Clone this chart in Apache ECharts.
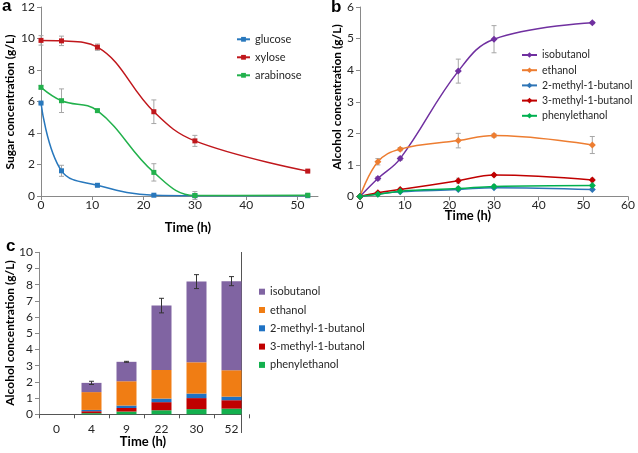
<!DOCTYPE html>
<html><head><meta charset="utf-8">
<script src="https://cdn.jsdelivr.net/npm/echarts@6/dist/echarts.min.js"></script>
<style>html,body{margin:0;padding:0;background:#fff}#c{width:638px;height:453px}</style>
</head><body><div id="c"></div>
<script>
// Panel a: sugars
const aTime = [0, 4, 11, 22, 30, 52];
const glucose = [5.9, 1.6, 0.68, 0.05, 0.02, 0.02];
const glucoseErr = [0.05, 0.35, 0.08, 0.05, 0, 0];
const xylose = [9.88, 9.85, 9.45, 5.35, 3.5, 1.58];
const xyloseErr = [0.3, 0.3, 0.2, 0.75, 0.35, 0.05];
const arabinose = [6.9, 6.05, 5.42, 1.5, 0.03, 0.05];
const arabinoseErr = [0.1, 0.75, 0.08, 0.55, 0.25, 0.05];
// Panel b: alcohols
const bTime = [0, 4, 9, 22, 30, 52];
const isobutanol = [0, 0.57, 1.2, 3.97, 4.98, 5.5];
const isobutanolErr = [0, 0.05, 0.05, 0.38, 0.43, 0.03];
const ethanol = [0, 1.1, 1.5, 1.77, 1.93, 1.63];
const ethanolErr = [0, 0.1, 0.05, 0.23, 0.05, 0.27];
const methyl2 = [0, 0.08, 0.15, 0.22, 0.28, 0.22];
const methyl3 = [0, 0.12, 0.22, 0.5, 0.68, 0.52];
const methyl3Err = [0, 0.03, 0.04, 0.08, 0.05, 0.06];
const phenyl = [0, 0.07, 0.17, 0.25, 0.32, 0.35];
const phenylErr = [0, 0.02, 0.03, 0.05, 0.06, 0.04];
// Panel c: stacked totals
const cCategories = ['0', '4', '9', '22', '30', '52'];
const totalErr = [0, 0.1, 0.03, 0.45, 0.43, 0.28];
const aTicks = [0, 10, 20, 30, 40, 50];

const FONT = 'Lato, "Open Sans", sans-serif';
const TXT = '#262626';
const AXC = '#898989';

function errSeries(name, xs, ys, es, xi, yi, color, cap) {
  return {
    type: 'custom', name: name, xAxisIndex: xi, yAxisIndex: yi, z: 1,
    silent: true,
    data: xs.map((x, i) => [x, ys[i], es[i]]),
    encode: { x: 0, y: 1 },
    renderItem: function (params, api) {
      const x = api.value(0), y = api.value(1), e = api.value(2);
      if (!e) return null;
      const t = api.coord([x, y + e]), b = api.coord([x, y - e]);
      const st = { stroke: color, lineWidth: 1 };
      return { type: 'group', children: [
        { type: 'line', shape: { x1: t[0], y1: t[1], x2: b[0], y2: b[1] }, style: st },
        { type: 'line', shape: { x1: t[0] - cap, y1: t[1], x2: t[0] + cap, y2: t[1] }, style: st },
        { type: 'line', shape: { x1: b[0] - cap, y1: b[1], x2: b[0] + cap, y2: b[1] }, style: st }
      ] };
    }
  };
}
function lineSeries(name, xs, ys, xi, yi, color, symbol, size) {
  return {
    type: 'line', name: name, xAxisIndex: xi, yAxisIndex: yi, z: 3,
    data: xs.map((x, i) => [x, ys[i]]),
    smooth: 0.4, symbol: symbol, symbolSize: size, showSymbol: true,
    lineStyle: { color: color, width: 1.5 }, itemStyle: { color: color }
  };
}
function barSeries(name, ys, color) {
  return {
    type: 'bar', name: 'c:' + name, xAxisIndex: 2, yAxisIndex: 2, stack: 'total',
    data: ys, barWidth: 20, itemStyle: { color: color }
  };
}
function valAxis(gi, min, max, interval, margin) {
  return {
    type: 'value', gridIndex: gi, min: min, max: max, interval: interval,
    axisLine: { show: true, lineStyle: { color: AXC } },
    axisTick: { show: true, length: 4, lineStyle: { color: AXC } },
    splitLine: { show: false },
    axisLabel: { color: TXT, fontFamily: FONT, fontSize: 12, margin: margin }
  };
}
const aX = valAxis(0, 0, 54, 10, 3);
aX.axisLabel.customValues = aTicks;
aX.axisTick.customValues = aTicks;

const colA = { glucose: '#2878bd', xylose: '#c0171c', arabinose: '#22b14c' };
const colB = { iso: '#7030a0', eth: '#ed7d31', m2: '#2e75b6', m3: '#c00000', ph: '#00b050' };
const colC = { iso: '#8064a2', eth: '#f07d14', m2: '#1f72c4', m3: '#c00000', ph: '#13b04e' };

const option = {
  animation: false,
  textStyle: { fontFamily: FONT },
  grid: [
    { left: 41, top: 7, width: 277, height: 189 },
    { left: 360, top: 7, width: 272, height: 189.5 },
    { left: 39, top: 252.3, width: 210, height: 162 }
  ],
  xAxis: [
    aX,
    valAxis(1, 0, 60, 10, 3),
    {
      type: 'category', gridIndex: 2, data: cCategories,
      axisLine: { show: false },
      axisTick: { show: true, length: 4, interval: 0, lineStyle: { color: '#555' } },
      axisLabel: { color: TXT, fontFamily: FONT, fontSize: 12, margin: 9 }
    }
  ],
  yAxis: [
    valAxis(0, 0, 12, 2, 6),
    valAxis(1, 0, 6, 1, 6),
    valAxis(2, 0, 10, 1, 6)
  ],
  legend: [
    {
      data: ['glucose', 'xylose', 'arabinose'], orient: 'vertical', left: 236, top: 32.3, padding: 0,
      itemWidth: 13, itemHeight: 6, itemGap: 4,
      textStyle: { fontSize: 11, lineHeight: 14, color: TXT, fontFamily: FONT }
    },
    {
      data: ['isobutanol', 'ethanol', '2-methyl-1-butanol', '3-methyl-1-butanol', 'phenylethanol'],
      orient: 'vertical', left: 521, top: 49.5, padding: 0,
      itemWidth: 15, itemHeight: 7, itemGap: 4.2,
      textStyle: { fontSize: 10.5, lineHeight: 11, color: TXT, fontFamily: FONT }
    },
    {
      data: ['c:isobutanol', 'c:ethanol', 'c:2-methyl-1-butanol', 'c:3-methyl-1-butanol', 'c:phenylethanol'],
      formatter: n => n.replace('c:', ''),
      orient: 'vertical', left: 259, top: 284.7, icon: 'rect', padding: 0,
      itemWidth: 6, itemHeight: 6, itemGap: 4.3,
      textStyle: { fontSize: 11, lineHeight: 14, color: TXT, fontFamily: FONT }
    }
  ],
  series: [
    errSeries('e1', aTime, glucose, glucoseErr, 0, 0, '#a6a6a6', 2.5),
    errSeries('e2', aTime, xylose, xyloseErr, 0, 0, '#a6a6a6', 2.5),
    errSeries('e3', aTime, arabinose, arabinoseErr, 0, 0, '#a6a6a6', 2.5),
    lineSeries('glucose', aTime, glucose, 0, 0, colA.glucose, 'rect', 5),
    lineSeries('xylose', aTime, xylose, 0, 0, colA.xylose, 'rect', 5),
    lineSeries('arabinose', aTime, arabinose, 0, 0, colA.arabinose, 'rect', 5),

    errSeries('e4', bTime, isobutanol, isobutanolErr, 1, 1, '#a6a6a6', 2.5),
    errSeries('e5', bTime, ethanol, ethanolErr, 1, 1, '#a6a6a6', 2.5),
    errSeries('e6', bTime, methyl3, methyl3Err, 1, 1, '#a6a6a6', 2),
    errSeries('e7', bTime, phenyl, phenylErr, 1, 1, '#a6a6a6', 2),
    lineSeries('isobutanol', bTime, isobutanol, 1, 1, colB.iso, 'diamond', 7),
    lineSeries('ethanol', bTime, ethanol, 1, 1, colB.eth, 'diamond', 7),
    lineSeries('2-methyl-1-butanol', bTime, methyl2, 1, 1, colB.m2, 'diamond', 7),
    lineSeries('3-methyl-1-butanol', bTime, methyl3, 1, 1, colB.m3, 'diamond', 7),
    lineSeries('phenylethanol', bTime, phenyl, 1, 1, colB.ph, 'diamond', 7),

    barSeries('phenylethanol', phenyl, colC.ph),
    barSeries('3-methyl-1-butanol', methyl3, colC.m3),
    barSeries('2-methyl-1-butanol', methyl2, colC.m2),
    barSeries('ethanol', ethanol, colC.eth),
    barSeries('isobutanol', isobutanol, colC.iso),
    (function () {
      const totals = cCategories.map((_, i) => isobutanol[i] + ethanol[i] + methyl2[i] + methyl3[i] + phenyl[i]);
      const s = errSeries('e8', cCategories.map((_, i) => i), totals, totalErr, 2, 2, '#333', 2.5);
      s.z = 5;
      return s;
    })()
  ],
  graphic: [
    { type: 'text', x: 2, y: 6, style: { text: 'a', font: 'bold 17px "Liberation Sans", Arial', fill: '#000', textAlign: 'left', textVerticalAlign: 'middle', align: 'left', verticalAlign: 'middle' } },
    { type: 'text', x: 331, y: 7.5, style: { text: 'b', font: 'bold 17px "Liberation Sans", Arial', fill: '#000', textAlign: 'left', textVerticalAlign: 'middle', align: 'left', verticalAlign: 'middle' } },
    { type: 'text', x: 6, y: 246, style: { text: 'c', font: 'bold 17px "Liberation Sans", Arial', fill: '#000', textAlign: 'left', textVerticalAlign: 'middle', align: 'left', verticalAlign: 'middle' } },
    { type: 'text', x: 10, y: 102, rotation: Math.PI / 2, style: { text: 'Sugar concentration (g/L)', font: 'bold 12px ' + FONT, fill: '#000', textAlign: 'center', textVerticalAlign: 'middle', align: 'center', verticalAlign: 'middle' } },
    { type: 'text', x: 188, y: 228, style: { text: 'Time (h)', font: 'bold 13px ' + FONT, fill: '#000', textAlign: 'center', textVerticalAlign: 'middle', align: 'center', verticalAlign: 'middle' } },
    { type: 'text', x: 337, y: 97, rotation: Math.PI / 2, style: { text: 'Alcohol concentration (g/L)', font: 'bold 12px ' + FONT, fill: '#000', textAlign: 'center', textVerticalAlign: 'middle', align: 'center', verticalAlign: 'middle' } },
    { type: 'text', x: 468, y: 216, style: { text: 'Time (h)', font: 'bold 13px ' + FONT, fill: '#000', textAlign: 'center', textVerticalAlign: 'middle', align: 'center', verticalAlign: 'middle' } },
    { type: 'text', x: 10, y: 333, rotation: Math.PI / 2, style: { text: 'Alcohol concentration (g/L)', font: 'bold 12px ' + FONT, fill: '#000', textAlign: 'center', textVerticalAlign: 'middle', align: 'center', verticalAlign: 'middle' } },
    { type: 'text', x: 143, y: 442, style: { text: 'Time (h)', font: 'bold 13px ' + FONT, fill: '#000', textAlign: 'center', textVerticalAlign: 'middle', align: 'center', verticalAlign: 'middle' } },
    { type: 'line', shape: { x1: 39, y1: 414.5, x2: 241, y2: 414.5 }, style: { stroke: '#555', lineWidth: 1 } },
    { type: 'line', shape: { x1: 241.5, y1: 252, x2: 241.5, y2: 433 }, style: { stroke: '#555', lineWidth: 1 } }
  ]
};
const chart = echarts.init(document.getElementById('c'), null, { renderer: 'canvas' });
chart.setOption(option);
</script></body></html>
